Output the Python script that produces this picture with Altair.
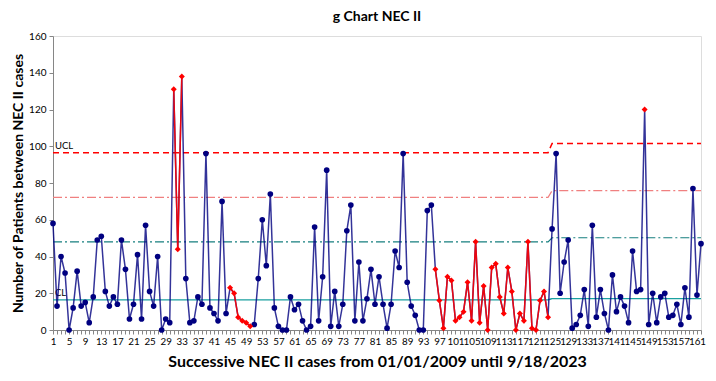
import altair as alt
import pandas as pd

# ---- data ----
values = [
    58, 13, 40, 31, 0, 12, 32, 13, 15, 4,
    18, 49, 51, 21, 13, 18, 14, 49, 33, 6,
    14, 41, 6, 57, 21, 13, 40, 0, 6, 4,
    131, 44, 138, 28, 4, 5, 18, 14, 96, 12,
    9, 5, 70, 9, 23, 20, 7, 5, 4, 2,
    3, 28, 60, 35, 74, 12, 2, 0, 0, 18,
    11, 14, 5, 0, 2, 56, 5, 29, 87, 2,
    21, 2, 14, 54, 68, 5, 37, 5, 17, 33,
    14, 29, 14, 1, 14, 43, 34, 96, 26, 13,
    8, 0, 0, 65, 68, 33, 16, 1, 29, 27,
    5, 7, 10, 26, 5, 48, 4, 24, 0, 34,
    36, 18, 9, 34, 21, 0, 9, 5, 48, 1,
    0, 16, 21, 7, 55, 96, 20, 37, 49, 1,
    3, 8, 22, 2, 57, 7, 22, 9, 0, 30,
    10, 18, 13, 4, 43, 21, 22, 120, 3, 20,
    4, 18, 20, 7, 8, 14, 3, 23, 7, 77,
    19, 47,
]
red_runs = [(31, 33), (45, 50), (96, 124), (148, 148)]
phase2_start = 125
ucl_vals = [96.5, 101.5]
upper2_vals = [72.2, 75.8]
upper1_vals = [48.0, 50.2]
cl_vals = [16.4, 17.1]
x_label_step = 4

FONT = "Lato"
NAVY = "#000080"
RED = "#ff0000"

n = list(range(1, len(values) + 1))
run_id = []
for i in n:
    rid = -1
    for k, (a, b) in enumerate(red_runs):
        if a <= i <= b:
            rid = k
    run_id.append(rid)

df = pd.DataFrame({"n": n, "value": values, "run": run_id})
df["red"] = df["run"] >= 0

ph = [0 if i < phase2_start else 1 for i in n]
lim = pd.DataFrame({
    "n": n,
    "ucl": [ucl_vals[p] for p in ph],
    "u2": [upper2_vals[p] for p in ph],
    "u1": [upper1_vals[p] for p in ph],
    "cl": [cl_vals[p] for p in ph],
})

xscale = alt.Scale(domain=[1, len(values)], nice=False, zero=False)
yscale = alt.Scale(domain=[0, 160], nice=False)

x_axis = alt.Axis(
    values=n,
    labelExpr=f"(datum.value - 1) % {x_label_step} == 0 ? datum.label : ''",
    grid=False, tickSize=4, tickColor="#868686", domainColor="#868686",
    labelFont=FONT, labelFontSize=9.8, labelColor="#000000", labelPadding=2,
    labelFlush=False, labelOverlap=False, labelBound=False,
    title="Successive NEC II cases from 01/01/2009 until 9/18/2023",
    titleFont=FONT, titleFontSize=16, titleFontWeight="bold", titleColor="#000000",
    titleX=324, titleY=31, titleAlign="center", titleBaseline="middle",
)
y_axis = alt.Axis(
    values=list(range(0, 161, 20)),
    grid=False, tickSize=4, tickColor="#868686", domainColor="#868686",
    labelFont=FONT, labelFontSize=10, labelColor="#000000", labelPadding=3,
    title="Number of Patients between NEC II cases",
    titleFont=FONT, titleFontSize=14, titleFontWeight="bold", titleColor="#000000",
    titleAngle=270, titleX=-35, titleY=147, titleAlign="center", titleBaseline="middle",
)

X = alt.X("n:Q", scale=xscale, axis=x_axis)

def Y(field):
    return alt.Y(f"{field}:Q", scale=yscale, axis=y_axis)

base_lim = alt.Chart(lim)

def limit_line(field, color, dash, width=1.4):
    return base_lim.mark_line(color=color, strokeDash=dash, strokeWidth=width).encode(
        x=X, y=Y(field)
    )

ucl_line = limit_line("ucl", "#ff0000", [6, 4], 1.5)
u2_line = limit_line("u2", "#f08080", [9, 3, 2, 3], 1.2)
u1_line = limit_line("u1", "#167f7f", [9, 3, 2, 3], 1.2)
cl_line = limit_line("cl", "#1aa0a0", [1, 0], 1.4)

lab_df = pd.DataFrame({"n": [1, 1], "v": [ucl_vals[0], cl_vals[0]], "t": ["UCL", "CL"]})
labels = alt.Chart(lab_df).mark_text(
    align="left", baseline="bottom", dx=2, dy=-2, font=FONT, fontSize=9.5, color="#000000"
).encode(x=X, y=Y("v"), text="t:N")

base = alt.Chart(df)
navy_line = base.mark_line(color=NAVY, strokeWidth=1.5, opacity=0.8).encode(x=X, y=Y("value"))
red_line = base.transform_filter("datum.red").mark_line(
    color=RED, strokeWidth=1.5, opacity=0.9
).encode(x=X, y=Y("value"), detail="run:N")
navy_pts = base.transform_filter("!datum.red").mark_point(
    shape="circle", filled=True, size=32, color=NAVY, opacity=1
).encode(x=X, y=Y("value"))
red_pts = base.transform_filter("datum.red").mark_point(
    shape="diamond", filled=True, size=36, color=RED, opacity=1
).encode(x=X, y=Y("value"))

chart = alt.layer(
    u2_line, u1_line, cl_line, ucl_line, labels, navy_line, red_line, navy_pts, red_pts
).properties(
    width=648, height=294,
    title=alt.TitleParams("g Chart NEC II", font=FONT, fontSize=14, fontWeight="bold",
                          color="#000000", anchor="middle", offset=7),
    autosize=alt.AutoSizeParams(type="none"),
    padding={"left": 45, "top": 28, "right": 7, "bottom": 43},
).configure_view(stroke=None).configure_axisX(labelOverlap=False).configure(background="white")

chart.save("out.html", embed_options={"renderer": "svg", "actions": False})
